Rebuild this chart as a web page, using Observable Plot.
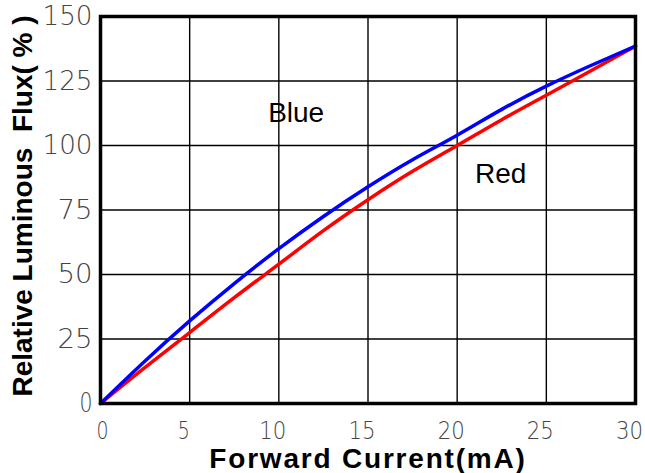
<!DOCTYPE html>
<html>
<head>
<meta charset="utf-8">
<script src="https://cdn.jsdelivr.net/npm/d3@7"></script>
<script src="https://cdn.jsdelivr.net/npm/@observablehq/plot@0.6"></script>
<style>
  html, body { margin: 0; padding: 0; background: #fff; }
  #chart svg { display: block; }
</style>
</head>
<body>
<div id="chart"></div>
<script>
// Forward current (mA)
const current = [0, 2.5, 5, 7.5, 10, 12.5, 15, 17.5, 20, 22.5, 25, 27.5, 30];
// Relative luminous flux (%)
const blueFlux = [0, 16.5, 32, 46.5, 60, 72.5, 84, 94.5, 104, 114, 123, 131, 138.5];
const redFlux  = [0, 14, 27.5, 41, 54, 67, 79, 90, 100, 110, 119.5, 129, 138.5];

const xTicks = [0, 5, 10, 15, 20, 25, 30];
const yTicks = [0, 25, 50, 75, 100, 125, 150];

const seriesLabels = [
  {name: "Blue", x: 9.4, y: 112.5},
  {name: "Red", x: 21.0, y: 89}
];

const xTitle = "Forward Current(mA)";
const yTitle = "Relative Luminous\u00A0\u00A0Flux(\u00A0%\u00A0)";

const blueData = current.map((c, i) => ({current: c, flux: blueFlux[i]}));
const redData = current.map((c, i) => ({current: c, flux: redFlux[i]}));

const tickFont = {fontFamily: "DejaVu Sans", fontWeight: 200, fill: "#444"};

const chart = Plot.plot({
  width: 645,
  height: 473,
  marginLeft: 100,
  marginRight: 10,
  marginTop: 16,
  marginBottom: 70,
  style: {background: "#fff", overflow: "visible"},
  x: {domain: [0, 30]},
  y: {domain: [0, 150]},
  marks: [
    Plot.gridX(xTicks.slice(1, -1), {stroke: "black", strokeOpacity: 1, strokeWidth: 1.4}),
    Plot.gridY(yTicks.slice(1, -1), {stroke: "black", strokeOpacity: 1, strokeWidth: 1.4}),
    Plot.line(redData, {x: "current", y: "flux", stroke: "#ff0000", strokeWidth: 3.5, curve: "natural"}),
    Plot.line(blueData, {x: "current", y: "flux", stroke: "#0000ff", strokeWidth: 3.5, curve: "natural"}),
    Plot.frame({stroke: "black", strokeWidth: 3.5}),
    Plot.axisX(xTicks, {tickSize: 0, tickPadding: 18, dx: -6, label: null, className: "xt", fontSize: 24, ...tickFont}),
    Plot.axisY(yTicks, {tickSize: 0, tickPadding: 8, label: null, className: "yt", fontSize: 27, ...tickFont}),
    Plot.text(seriesLabels, {x: "x", y: "y", text: "name", textAnchor: "start", lineAnchor: "middle",
      fontFamily: "Liberation Sans, Arial, sans-serif", fontSize: 28, fill: "black"}),
    Plot.text([xTitle], {frameAnchor: "bottom", dy: 56, text: d => d, className: "xtitle",
      fontFamily: "Liberation Sans, Arial, sans-serif", fontWeight: "bold", fontSize: 28, fill: "black",
      lineAnchor: "middle", textAnchor: "middle"}),
    Plot.text([yTitle], {frameAnchor: "left", dx: -77, dy: -4, rotate: -90, text: d => d,
      fontFamily: "Liberation Sans, Arial, sans-serif", fontWeight: "bold", fontSize: 28, fill: "black",
      lineAnchor: "middle", textAnchor: "middle"})
  ]
});

const svg = d3.select(chart);
svg.selectAll(".xtitle text").attr("letter-spacing", "1.8px");
// narrow stroke-font look for the tick labels
svg.selectAll(".xt text").each(function() {
  const n = this.textContent.length;
  const t = d3.select(this).attr("textLength", n === 1 ? 12 : 27).attr("lengthAdjust", "spacingAndGlyphs");
  if (this.textContent === "0") t.attr("dx", 8);
});
svg.selectAll(".yt text").each(function() {
  const n = this.textContent.length;
  d3.select(this).attr("textLength", n === 1 ? 13 : n === 2 ? 35 : 50).attr("lengthAdjust", "spacingAndGlyphs");
});

document.getElementById("chart").appendChild(chart);
</script>
</body>
</html>
